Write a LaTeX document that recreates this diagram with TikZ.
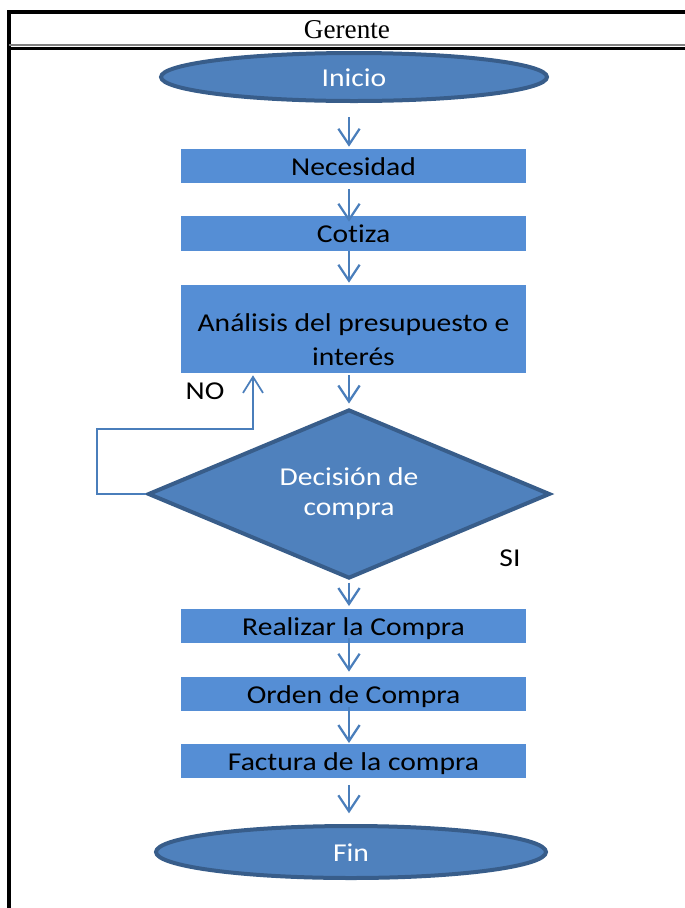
\documentclass[tikz,border=0pt]{standalone}
\usepackage{fontspec}
\usetikzlibrary{shapes.geometric,arrows.meta}
\newfontfamily\calfont[FakeStretch=1.15,Ligatures={NoCommon}]{Carlito}
\newfontfamily\serfont{Liberation Serif}
\definecolor{boxfill}{RGB}{85,142,213}
\definecolor{shapefill}{RGB}{79,129,189}
\definecolor{shapeborder}{RGB}{56,93,138}
\definecolor{arrowcol}{RGB}{74,126,187}
\begin{document}
\begin{tikzpicture}[x=0.75pt,y=-0.75pt,
  stepbox/.style={rectangle,fill=boxfill,draw=none,minimum width=258.75pt,minimum height=25.5pt,inner sep=0pt,
    font=\calfont\fontsize{19.3}{22}\selectfont,text=black,text height=17.4pt,text depth=3.9pt},
  termnode/.style={ellipse,fill=shapefill,draw=shapeborder,line width=3pt,inner sep=0pt,
    font=\calfont\fontsize{19.3}{22}\selectfont,text=white,text height=17.4pt,text depth=3.9pt},
  decnode/.style={diamond,fill=shapefill,draw=shapeborder,line width=3pt,inner sep=0pt,
    minimum width=301.5pt,minimum height=126.75pt,aspect=2.38,align=center,
    font=\calfont\fontsize{19.3}{22.5}\selectfont,text=white},
  flow/.style={draw=arrowcol,line width=1.7pt,-{Straight Barb[length=12pt,width=16pt,line width=1.7pt]}},
  loopline/.style={draw=arrowcol,line width=1.3pt,-{Straight Barb[length=12pt,width=15pt,line width=1.3pt]}},
  lbl/.style={font=\calfont\fontsize{19.3}{22}\selectfont,text=black,inner sep=0pt}
]
\useasboundingbox (0,0) rectangle (685,908);
% frame
\draw[line width=3pt,black] (7,12) -- (685,12);
\draw[line width=3pt,black] (9,10) -- (9,908);
\draw[line width=0.8pt,gray] (9,45) -- (685,45);
\draw[line width=2.4pt,black] (9,48.5) -- (685,48.5);
\node[font=\serfont\fontsize{20.4}{24}\selectfont,inner sep=0pt] (head) at (347,30) {Gerente};

% nodes
\node[termnode,minimum width=289.5pt,minimum height=36pt] (ini) at (354,77) {Inicio};
\node[stepbox] (nec) at (353.5,166) {Necesidad};
\node[stepbox,minimum height=26.25pt] (cot) at (353.5,233.5) {Cotiza};
\node[stepbox,minimum height=66pt] (ana) at (353.5,329) {};
\node[lbl,align=center,font=\calfont\fontsize{19.3}{25.5}\selectfont] (anat) at (353.5,340) {Análisis del presupuesto e\\interés};
\node[decnode] (dec) at (349,494) {Decisión de\\compra};
\node[stepbox] (real) at (353.5,626) {Realizar la Compra};
\node[stepbox] (ord) at (353.5,694) {Orden de Compra};
\node[stepbox] (fac) at (353.5,761) {Factura de la compra};
\node[termnode,minimum width=292.5pt,minimum height=39pt] (fin) at (351,852) {Fin};

\node[lbl] (no) at (205,391) {NO};
\node[lbl] (si) at (510,558) {SI};

% axis coordinates
\coordinate (ax) at (349,0);
\coordinate (lb) at (97,429);
\coordinate (tx) at (253,0);

% connectors
\draw[flow,shorten <=10.5pt,shorten >=1.5pt] (ini.south -| ax) -- (nec.north -| ax);
\draw[flow,shorten <=4.5pt,shorten >=-4.5pt] (nec.south -| ax) -- (cot.north -| ax);
\draw[flow,shorten <=0pt,shorten >=1.5pt] (cot.south -| ax) -- (ana.north -| ax);
\draw[flow,shorten <=1.5pt,shorten >=3pt] (ana.south -| ax) -- (dec.north);
\draw[flow,shorten <=1.5pt,shorten >=2pt] (dec.south) -- (real.north -| ax);
\draw[flow,shorten <=-3.75pt,shorten >=3.75pt] (real.south -| ax) -- (ord.north -| ax);
\draw[flow,shorten <=-3pt,shorten >=0.5pt] (ord.south -| ax) -- (fac.north -| ax);
\draw[flow,shorten <=5pt,shorten >=8pt] (fac.south -| ax) -- (fin.north -| ax);
\draw[loopline,shorten >=1.5pt] (dec.west) -| (lb) -| (ana.south -| tx);
\end{tikzpicture}
\end{document}
